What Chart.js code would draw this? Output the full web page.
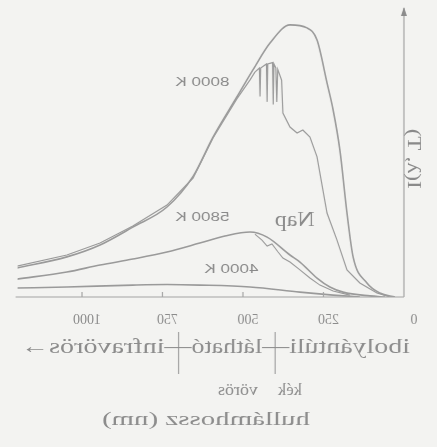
<!DOCTYPE html>
<html>
<head>
<meta charset="utf-8">
<script src="https://cdn.jsdelivr.net/npm/chart.js@4/dist/chart.umd.min.js"></script>
<style>
  body { margin: 0; background: #f3f3f1; }
  /* the scan is mirrored left-right, so the whole canvas is flipped */
  #chart { display: block; transform: scaleX(-1); }
</style>
</head>
<body>
<canvas id="chart" width="437" height="447"></canvas>
<script>
//------------------------ DATA ---------------------------------------------------

// wavelength (nm) and intensity (8000 K peak ~ 100)
const wl8000 = [28, 75, 115, 158, 177, 199, 220, 239, 270, 301, 354, 416, 469, 519, 593, 655, 736, 842, 944, 1047, 1202];
const i8000 = [0, 1.5, 5.2, 14.8, 31.0, 54.2, 69.0, 79.0, 94.8, 99.3, 100.4, 93.7, 83.8, 73.8, 59.0, 44.5, 33.2, 25.8, 19.2, 14.8, 10.7];

// sun spectrum, with a few absorption lines near the top
const wlNap = [43, 84, 137, 177, 208, 239, 270, 292, 314, 332, 354, 376, 380, 392, 395, 398, 404, 406, 408, 423, 425, 427, 445, 447, 449, 463, 478, 519, 593, 655, 736, 842, 944, 1047, 1202];
const iNap = [0, 1.5, 5.2, 10.0, 21.0, 31.0, 51.7, 59.0, 61.6, 60.5, 62.7, 67.9, 80.0, 84.0, 72.0, 84.5, 86.0, 71.0, 86.5, 86.0, 72.0, 86.0, 84.5, 74.0, 84.5, 83.0, 80.1, 73.1, 58.7, 43.9, 33.9, 26.2, 19.9, 15.5, 11.4];

const wl5800 = [59, 106, 189, 230, 270, 323, 354, 425, 478, 556, 634, 736, 842, 944, 1047, 1202];
const i5800 = [0, 0.4, 1.8, 3.7, 7.0, 12.9, 15.5, 22.1, 24.0, 22.5, 19.9, 16.6, 14.0, 11.8, 9.2, 6.6];

const wlNap2 = [168, 220, 261, 292, 323, 354, 376, 391, 410, 425, 441, 463];
const iNap2 = [0.7, 2.2, 4.4, 7.0, 10.0, 12.9, 14.4, 16.6, 19.6, 18.8, 21.0, 23.2];

const wl4000 = [137, 220, 323, 478, 634, 736, 842, 1047, 1202];
const i4000 = [0, 0.7, 1.8, 3.7, 4.4, 4.6, 4.4, 3.7, 3.3];

const xTicks = [0, 250, 500, 750, 1000];
const visibleEdges = [400, 700];

const curveLabels = [
  { text: "8000 K", x: 626, y: 79.3 },
  { text: "5800 K", x: 626, y: 29.2 },
  { text: "4000 K", x: 536, y: 10.3 },
];
const napLabel = { text: "Nap", x: 339, y: 28.0 };

//------------------------ HELPERS ----------------------------

const ink = "#8c8c8c";
const lineInk = "#9a9a9a";

function toPoints(xs, ys) {
  return xs.map((x, i) => ({ x: x, y: ys[i] }));
}

// draw text squeezed/stretched into a horizontal span (the scan is stretched)
function fitText(ctx, text, x0, x1, y, font) {
  ctx.font = font;
  const w = ctx.measureText(text).width;
  ctx.save();
  ctx.translate((x0 + x1) / 2, y);
  ctx.scale((x1 - x0) / w, 1);
  ctx.textAlign = "center";
  ctx.textBaseline = "middle";
  ctx.fillText(text, 0, 0);
  ctx.restore();
}

const decor = {
  id: "decor",
  afterDraw(chart) {
    const ctx = chart.ctx;
    const xs = chart.scales.x;
    const ys = chart.scales.y;
    const area = chart.chartArea;
    const y0 = ys.getPixelForValue(0);

    ctx.save();
    ctx.strokeStyle = "#a4a4a4";
    ctx.fillStyle = ink;
    ctx.lineWidth = 1.2;

    // axes
    const ax = xs.getPixelForValue(0);
    ctx.beginPath();
    ctx.moveTo(ax, y0);
    ctx.lineTo(area.right + 2, y0);
    ctx.moveTo(ax, y0);
    ctx.lineTo(ax, area.top - 2);
    ctx.stroke();
    // arrow head on y axis
    ctx.beginPath();
    ctx.moveTo(ax, area.top - 3);
    ctx.lineTo(ax - 3, area.top + 6);
    ctx.lineTo(ax + 3, area.top + 6);
    ctx.closePath();
    ctx.fill();

    // inward tick marks and labels
    ctx.font = "14px 'Liberation Serif', serif";
    ctx.textAlign = "center";
    ctx.textBaseline = "middle";
    xTicks.forEach((t) => {
      const px = xs.getPixelForValue(t);
      if (t > 0) {
        ctx.beginPath();
        ctx.moveTo(px, y0);
        ctx.lineTo(px, y0 - 5);
        ctx.stroke();
      }
      ctx.fillText(String(t), px - (t === 0 ? 10 : 5), y0 + 23);
    });

    // curve labels
    ctx.fillStyle = "#8a8a8a";
    curveLabels.forEach((l) => {
      const cx = xs.getPixelForValue(l.x);
      const cy = ys.getPixelForValue(l.y);
      fitText(ctx, l.text, cx - 27, cx + 27, cy, "13px 'Liberation Sans', sans-serif");
    });
    const nx = xs.getPixelForValue(napLabel.x);
    const ny = ys.getPixelForValue(napLabel.y);
    fitText(ctx, napLabel.text, nx - 20, nx + 20, ny, "20px 'Liberation Serif', serif");

    // y axis title
    ctx.save();
    ctx.translate(ax - 9, ys.getPixelForValue(51));
    ctx.rotate(-Math.PI / 2);
    fitText(ctx, "I(λ, T)", -30, 30, 0, "18px 'Liberation Serif', serif");
    ctx.restore();

    // spectrum bands under the axis
    ctx.fillStyle = ink;
    const b1 = xs.getPixelForValue(visibleEdges[0]);
    const b2 = xs.getPixelForValue(visibleEdges[1]);
    ctx.beginPath();
    ctx.moveTo(b1, 332);
    ctx.lineTo(b1, 374);
    ctx.moveTo(b2, 332);
    ctx.lineTo(b2, 374);
    ctx.stroke();

    const serif = "20px 'Liberation Serif', serif";
    fitText(ctx, "ibolyántúli–", 27, b1, 348, serif);
    fitText(ctx, "–látható–", b1, b2, 348, serif);
    fitText(ctx, "–infravörös→", b2, 416, 348, serif);

    fitText(ctx, "kék", 135, 159, 391, "17px 'Liberation Serif', serif");
    fitText(ctx, "vörös", 179, 219, 391, "17px 'Liberation Serif', serif");
    fitText(ctx, "hullámhossz (nm)", 127, 335, 420, "18px 'Liberation Serif', serif");

    ctx.restore();
  },
};

//------------------------ CHART ----------------------------

function curve(xs, ys, width, smooth) {
  return {
    data: toPoints(xs, ys),
    borderColor: lineInk,
    borderWidth: width,
    pointRadius: 0,
    fill: false,
    tension: smooth ? 0.4 : 0,
    cubicInterpolationMode: smooth ? "monotone" : "default",
  };
}

new Chart(document.getElementById("chart").getContext("2d"), {
  type: "line",
  data: {
    datasets: [
      curve(wl8000, i8000, 1.6, true),
      curve(wlNap, iNap, 1.2, false),
      curve(wl5800, i5800, 1.6, true),
      curve(wlNap2, iNap2, 1.1, false),
      curve(wl4000, i4000, 1.6, true),
    ],
  },
  options: {
    responsive: false,
    devicePixelRatio: 1,
    animation: false,
    layout: { padding: { left: 33, right: 17.6, top: 10, bottom: 150 } },
    plugins: {
      legend: { display: false },
      tooltip: { enabled: false },
    },
    scales: {
      x: { type: "linear", min: 0, max: 1200, display: false },
      y: { min: 0, max: 105.9, display: false },
    },
  },
  plugins: [decor],
});
</script>
</body>
</html>
